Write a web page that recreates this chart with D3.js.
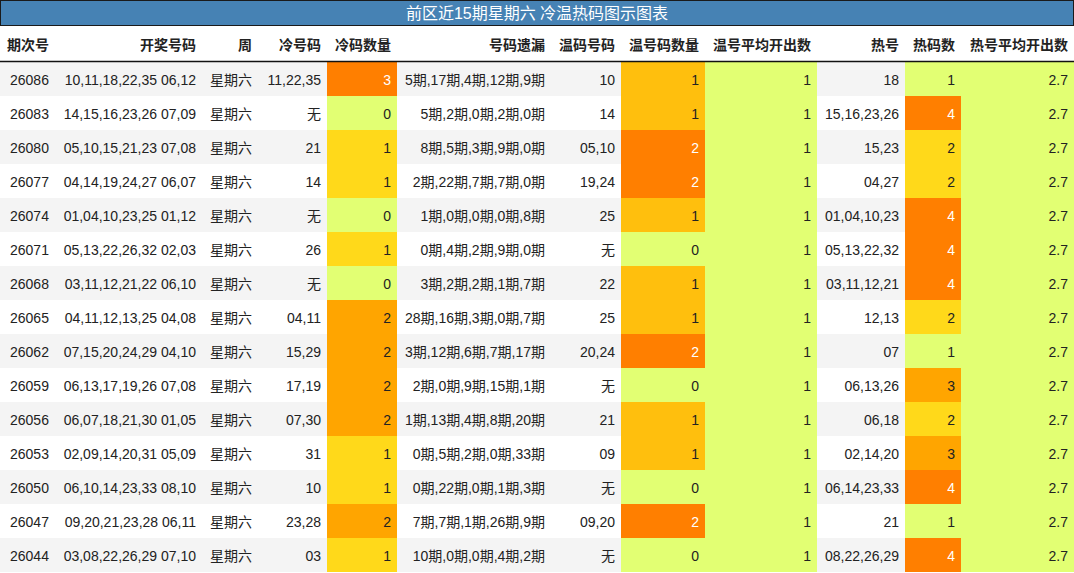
<!DOCTYPE html>
<html><head><meta charset="utf-8">
<script src="https://cdn.jsdelivr.net/npm/d3@7"></script>
<style>body{margin:0;background:#fff;font-family:"Liberation Sans","Noto Sans CJK SC",sans-serif;}</style>
</head><body><svg id="chart"></svg>
<script>
var title = "前区近15期星期六 冷温热码图示图表";
var headers = ["期次号","开奖号码","周","冷号码","冷码数量","号码遗漏","温码号码","温号码数量","温号平均开出数","热号","热码数","热号平均开出数"];
var issues = ["26086","26083","26080","26077","26074","26071","26068","26065","26062","26059","26056","26053","26050","26047","26044"];
var draws = ["10,11,18,22,35 06,12","14,15,16,23,26 07,09","05,10,15,21,23 07,08","04,14,19,24,27 06,07","01,04,10,23,25 01,12","05,13,22,26,32 02,03","03,11,12,21,22 06,10","04,11,12,13,25 04,08","07,15,20,24,29 04,10","06,13,17,19,26 07,08","06,07,18,21,30 01,05","02,09,14,20,31 05,09","06,10,14,23,33 08,10","09,20,21,23,28 06,11","03,08,22,26,29 07,10"];
var coldNums = ["11,22,35","无","21","14","无","26","无","04,11","15,29","17,19","07,30","31","10","23,28","03"];
var coldCount = [3,0,1,1,0,1,0,2,2,2,2,1,1,2,1];
var misses = ["5期,17期,4期,12期,9期","5期,2期,0期,2期,0期","8期,5期,3期,9期,0期","2期,22期,7期,7期,0期","1期,0期,0期,0期,8期","0期,4期,2期,9期,0期","3期,2期,2期,1期,7期","28期,16期,3期,0期,7期","3期,12期,6期,7期,17期","2期,0期,9期,15期,1期","1期,13期,4期,8期,20期","0期,5期,2期,0期,33期","0期,22期,0期,1期,3期","7期,7期,1期,26期,9期","10期,0期,0期,4期,2期"];
var warmNums = ["10","14","05,10","19,24","25","无","22","25","20,24","无","21","09","无","09,20","无"];
var warmCount = [1,1,2,2,1,0,1,1,2,0,1,1,0,2,0];
var warmAvg = [1,1,1,1,1,1,1,1,1,1,1,1,1,1,1];
var hotNums = ["18","15,16,23,26","15,23","04,27","01,04,10,23","05,13,22,32","03,11,12,21","12,13","07","06,13,26","06,18","02,14,20","06,14,23,33","21","08,22,26,29"];
var hotCount = [1,4,2,2,4,4,4,2,1,3,2,3,4,1,4];
var hotAvg = [2.7,2.7,2.7,2.7,2.7,2.7,2.7,2.7,2.7,2.7,2.7,2.7,2.7,2.7,2.7];

var W = 1074, H = 573, titleH = 25, headH = 37, rowH = 34;
var edges = [0,56,202,258,327,397,551,621,705,817,905,961,1074];
var columns = [issues,draws,issues.map(function(){return "星期六";}),coldNums,coldCount,misses,warmNums,warmCount,warmAvg,hotNums,hotCount,hotAvg];
var colored = {4:true,7:true,8:true,10:true,11:true};
var ramp = ["#e2ff73","#ffd91a","#ffa500","#ff7f00"];
function colorFor(vals){
  var ext = d3.extent(vals);
  var s = d3.scaleLinear().domain([0,1/3,2/3,1]).range(ramp).interpolate(d3.interpolateRgb);
  return function(v){ var t = ext[1]===ext[0] ? 0 : (v-ext[0])/(ext[1]-ext[0]); return {fill:s(t), dark:t>0.99}; };
}
var y = d3.scaleBand().domain(d3.range(issues.length)).range([titleH+headH, titleH+headH+rowH*issues.length]);

var svg = d3.select("#chart").attr("width",W).attr("height",H);
svg.append("rect").attr("x",0.5).attr("y",0.5).attr("width",W-1).attr("height",titleH).attr("fill","#4682b4").attr("stroke","#1a1a1a");
svg.append("text").attr("x",W/2).attr("y",titleH/2+6).attr("text-anchor","middle").attr("fill","#fff").attr("font-size",16).text(title);

svg.selectAll(".hd").data(headers).enter().append("text")
  .attr("x",function(d,i){return i===0?7:edges[i+1]-6;})
  .attr("text-anchor",function(d,i){return i===0?"start":"end";})
  .attr("y",titleH+headH/2+6).attr("font-size",14).attr("font-weight","bold").attr("fill","#222").text(function(d){return d;});

var rows = svg.selectAll(".row").data(d3.range(issues.length)).enter().append("g").attr("class","row");
rows.append("rect").attr("x",0).attr("width",W).attr("y",function(r){return y(r);}).attr("height",rowH)
  .attr("fill",function(r){return r%2===0?"#f4f4f4":"#fff";});

columns.forEach(function(vals,c){
  var cf = colored[c] ? colorFor(vals) : null;
  var g = svg.append("g");
  vals.forEach(function(v,r){
    var st = cf ? cf(v) : null;
    if(st) g.append("rect").attr("x",edges[c]).attr("width",edges[c+1]-edges[c]).attr("y",y(r)).attr("height",rowH).attr("fill",st.fill);
    g.append("text").attr("x",c===0?10:edges[c+1]-6).attr("text-anchor",c===0?"start":"end")
      .attr("y",y(r)+rowH/2+6).attr("font-size",14).attr("fill",st&&st.dark?"#fff":"#222").text(v);
  });
});
svg.append("line").attr("x1",0).attr("x2",W).attr("y1",titleH+headH-0.5).attr("y2",titleH+headH-0.5).attr("stroke","#111").attr("stroke-width",1.5);
</script></body></html>
